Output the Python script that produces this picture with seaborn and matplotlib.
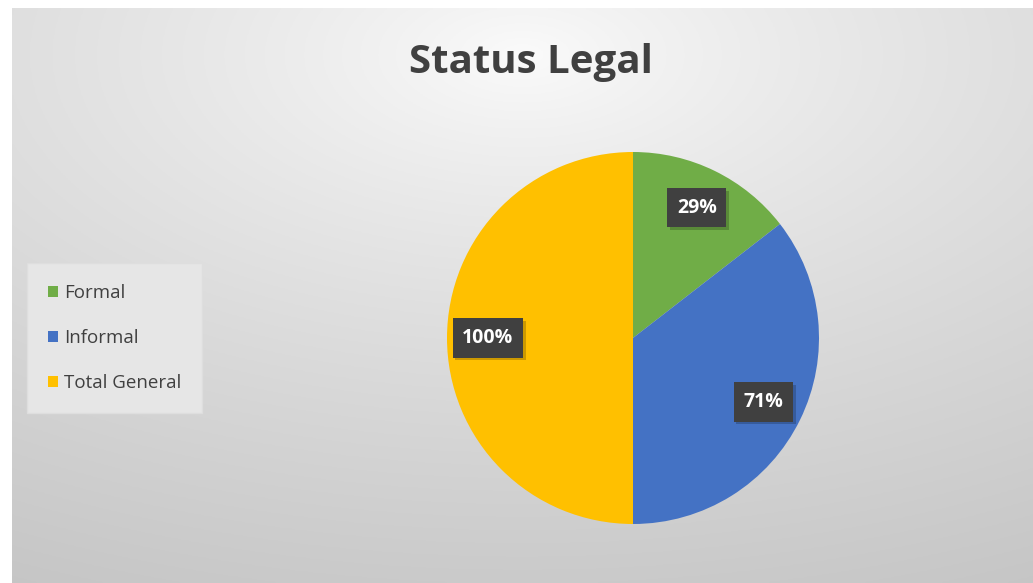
import numpy as np
import matplotlib
matplotlib.use("Agg")
import matplotlib.pyplot as plt
import matplotlib.patheffects as pe
import seaborn as sns

categories = ["Formal", "Informal", "Total General"]
values = [0.29, 0.71, 1.00]
colors = ["#70ad47", "#4472c4", "#ffc000"]
title = "Status Legal"

sns.set_theme(style="white")
plt.rcParams['font.family'] = ['Open Sans', 'DejaVu Sans']

W, H = 1033, 583
fig = plt.figure(figsize=(W / 100, H / 100), dpi=100)
fig.patch.set_facecolor("white")

# radial gradient background of chart area
x0, y0 = 12 / W, 0.0
bg = fig.add_axes([x0, y0, 1 - x0, (H - 8) / H])
bg.set_axis_off()
nx, ny = 400, 240
xx, yy = np.meshgrid(np.linspace(0, 1, nx), np.linspace(0, 1, ny))
d = np.sqrt(((xx - 0.50) * 1.0) ** 2 + ((yy - 0.08) * 1.1) ** 2)
d = d / d.max()
val = 0.985 - 0.21 * np.clip(d, 0, 1) ** 0.8
img = np.dstack([val, val, val])
bg.imshow(img, aspect="auto", extent=[0, 1, 1, 0])
bg.set_xlim(0, 1)
bg.set_ylim(1, 0)

# pie axes
cx, cy, r = 633, 338, 186
ax = fig.add_axes([(cx - r) / W, (H - cy - r) / H, 2 * r / W, 2 * r / H])
ax.set_facecolor("none")
wedges, texts, autotexts = ax.pie(
    values, colors=colors, startangle=90, counterclock=False,
    autopct="%1.0f%%", pctdistance=0.78, radius=1.0,
    wedgeprops=dict(linewidth=0),
)
ax.set_xlim(-1, 1)
ax.set_ylim(-1, 1)
ax.set_aspect("auto")
for t, v in zip(autotexts, values):
    t.set_text(f"{v:.0%}")
    t.set_color("white")
    t.set_fontweight("bold")
    t.set_fontsize(14)
    t.set_bbox(dict(boxstyle="square,pad=0.5", facecolor="#404040", edgecolor="none"))
    t.get_bbox_patch().set_path_effects([
        pe.SimplePatchShadow(offset=(2, -2), shadow_rgbFace="black", alpha=0.2),
        pe.Normal()])

fig.text(531 / W, 1 - 62 / H, title, ha="center", va="center",
         fontsize=29, fontweight="bold", color="#404040")

leg = fig.legend(wedges, categories, loc="center left",
                 bbox_to_anchor=(33 / W, 1 - 338 / H),
                 frameon=True, fontsize=13.5, labelspacing=1.45,
                 handlelength=0.55, handleheight=0.55, handletextpad=0.3,
                 borderpad=0.8, borderaxespad=0)
leg.get_frame().set_facecolor("#e6e6e6")
leg.get_frame().set_edgecolor("#dedede")
leg.get_frame().set_alpha(1)
leg.get_frame().set_boxstyle("square")
for txt in leg.get_texts():
    txt.set_color("#404040")

fig.savefig("out.png", dpi=100)
